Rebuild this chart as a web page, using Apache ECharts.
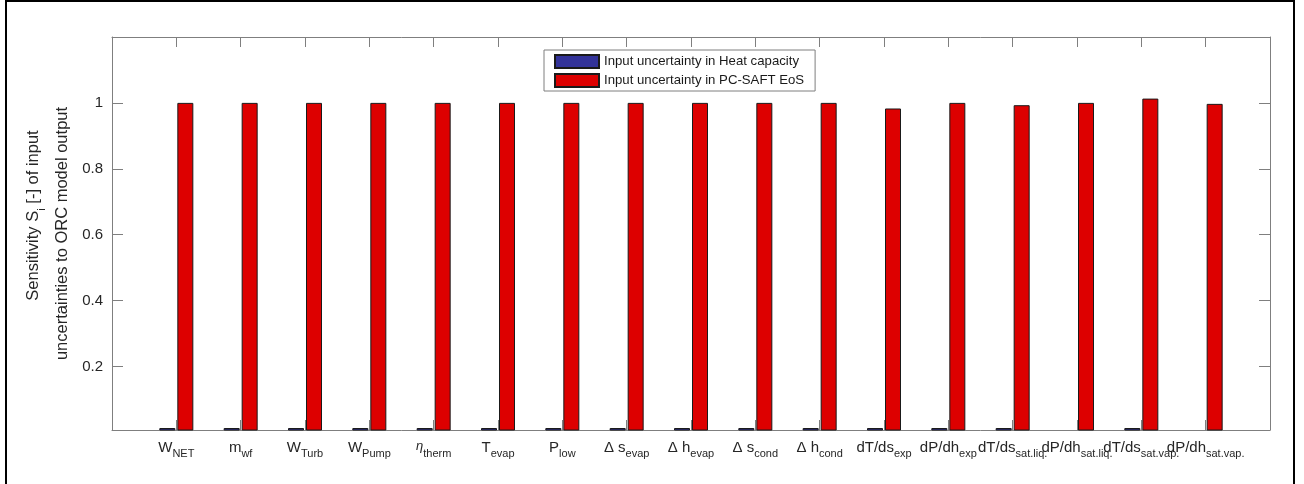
<!DOCTYPE html>
<html>
<head>
<meta charset="utf-8">
<title>Sensitivity</title>
<script src="https://cdn.jsdelivr.net/npm/echarts@6/dist/echarts.min.js"></script>
<style>
  html, body { margin: 0; padding: 0; background: #fff; }
  #chart { width: 1304px; height: 484px; }
</style>
</head>
<body>
<div id="chart"></div>
<script>
// categories: main text + subscript
var catMain = ["W", "m", "W", "W", "η", "T", "P", "Δ s", "Δ h", "Δ s", "Δ h",
  "dT/ds", "dP/dh", "dT/ds", "dP/dh", "dT/ds", "dP/dh"];
var catSub = ["NET", "wf", "Turb", "Pump", "therm", "evap", "low", "evap", "evap", "cond", "cond",
  "exp", "exp", "sat.liq.", "sat.liq.", "sat.vap.", "sat.vap."];
var heatCapacity = [0.013, 0.013, 0.013, 0.013, 0.013, 0.013, 0.013, 0.013, 0.013, 0.013, 0.013,
  0.013, 0.013, 0.013, 0.002, 0.013, 0.002];
var pcSaft = [1, 1, 1, 1, 1, 1, 1, 1, 1, 1, 1,
  0.983, 1, 0.993, 1, 1.013, 0.997];
var yTicks = [0.2, 0.4, 0.6, 0.8, 1];

var font = "'Liberation Sans', Arial, Helvetica, sans-serif";
var txt = "#262626";
var boxColor = "#7f7f7f";

// pad one empty slot on each side so the categories sit at 1..17 of 0..18
var xData = [""];
for (var i = 0; i < catMain.length; i++) {
  xData.push(catMain[i] === "η" ? "{eta|η}{s|" + catSub[i] + "}" : "{m|" + catMain[i] + "}{s|" + catSub[i] + "}");
}
xData.push("");
var blueData = ["-"].concat(heatCapacity, ["-"]);
var redData = ["-"].concat(pcSaft, ["-"]);

var chart = echarts.init(document.getElementById("chart"));
chart.setOption({
  animation: false,
  textStyle: { fontFamily: font, color: txt },
  grid: { left: 112, right: 34, top: 37, bottom: 54 },
  legend: {
    orient: "vertical",
    left: 544,
    top: 50,
    icon: "rect",
    itemWidth: 44,
    itemHeight: 13,
    itemGap: 4,
    padding: [4, 11, 3, 10],
    borderColor: boxColor,
    borderWidth: 1,
    backgroundColor: "#fff",
    textStyle: { fontFamily: font, fontSize: 13.2, color: "#1a1a1a" },
    data: ["Input uncertainty in Heat capacity", "Input uncertainty in PC-SAFT EoS"]
  },
  xAxis: [{
    type: "category",
    data: xData,
    boundaryGap: false,
    axisLine: { show: true, lineStyle: { color: boxColor, width: 1 } },
    axisTick: { show: true, inside: true, interval: 0, length: 10, lineStyle: { color: boxColor } },
    axisLabel: {
      interval: 0,
      margin: 10,
      color: txt,
      fontFamily: font,
      rich: {
        m: { fontSize: 15, lineHeight: 16, verticalAlign: "top", color: txt, fontFamily: font },
        eta: { fontSize: 13, lineHeight: 16, verticalAlign: "top", fontStyle: "italic", color: txt, fontFamily: font },
        s: { fontSize: 11, lineHeight: 28, color: txt, fontFamily: font }
      }
    },
    splitLine: { show: false }
  }, {
    type: "category",
    position: "top",
    data: xData,
    boundaryGap: false,
    axisLine: { show: true, lineStyle: { color: boxColor, width: 1 } },
    axisTick: { show: true, inside: true, interval: 0, length: 10, lineStyle: { color: boxColor } },
    axisLabel: { show: false, interval: 0 },
    splitLine: { show: false }
  }],
  yAxis: [{
    type: "value",
    min: 0.007,
    max: 1.2,
    splitNumber: 6,
    // leading spacer: first line sits a bit off centre in the original
    name: "{sp| }{a|Sensitivity S}{s|i}{a| [-] of input}\n{a|uncertainties to ORC model output}",
    nameLocation: "middle",
    nameGap: 26,
    nameTextStyle: {
      rich: {
        sp: { width: 36, fontSize: 16.5, lineHeight: 29 },
        a: { fontSize: 16.5, lineHeight: 29, color: txt, fontFamily: font },
        s: { fontSize: 11.5, lineHeight: 17, verticalAlign: "bottom", color: txt, fontFamily: font }
      }
    },
    axisLine: { show: true, lineStyle: { color: boxColor, width: 1 } },
    axisTick: { show: true, inside: true, length: 11, lineStyle: { color: boxColor } },
    axisLabel: {
      margin: 9,
      fontSize: 15,
      color: txt,
      fontFamily: font,
      formatter: function (v) {
        for (var k = 0; k < yTicks.length; k++) {
          if (Math.abs(v - yTicks[k]) < 1e-6) return String(yTicks[k]);
        }
        return "";
      }
    },
    splitLine: { show: false }
  }, {
    type: "value",
    position: "right",
    min: 0.007,
    max: 1.2,
    splitNumber: 6,
    axisLine: { show: true, lineStyle: { color: boxColor, width: 1 } },
    axisTick: { show: true, inside: true, length: 11, lineStyle: { color: boxColor } },
    axisLabel: { show: false },
    splitLine: { show: false }
  }],
  series: [{
    name: "Input uncertainty in Heat capacity",
    type: "bar",
    data: blueData,
    barWidth: 16,
    barGap: "12.5%",
    itemStyle: { color: "#333399", borderColor: "#1a1a1a", borderWidth: 1 }
  }, {
    name: "Input uncertainty in PC-SAFT EoS",
    type: "bar",
    data: redData,
    barWidth: 16,
    barGap: "12.5%",
    itemStyle: { color: "#dd0000", borderColor: "#1a1a1a", borderWidth: 1 }
  }],
  graphic: [{
    // figure frame
    type: "rect",
    silent: true,
    shape: { x: 6, y: 1, width: 1288, height: 520 },
    style: { fill: "none", stroke: "#000", lineWidth: 2 }
  }]
});
</script>
</body>
</html>
